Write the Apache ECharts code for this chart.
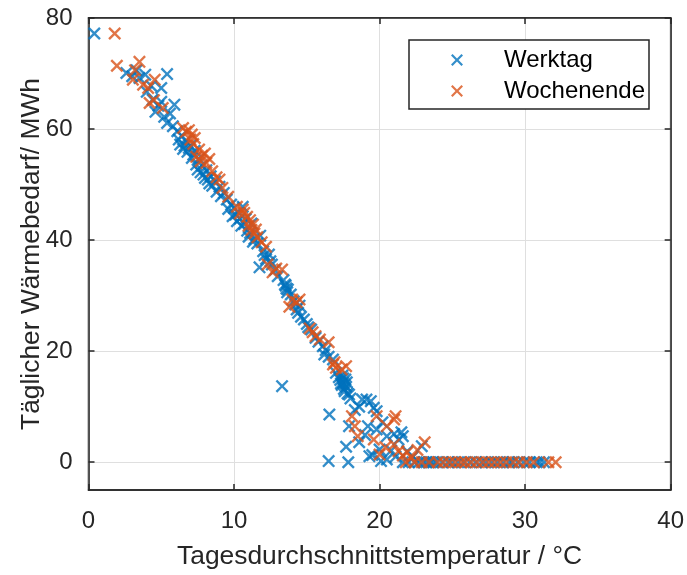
<!DOCTYPE html>
<html>
<head>
<meta charset="utf-8">
<script src="https://cdn.jsdelivr.net/npm/echarts@6/dist/echarts.min.js"></script>
<style>
  html, body { margin: 0; padding: 0; background: #fff; }
  #chart { width: 687px; height: 575px; }
</style>
</head>
<body>
<div id="chart"></div>
<script>
// Werktag: [Temperatur, Wärmebedarf]
const werktag = [
  [0.4, 77.2],
  [2.6, 70.1], [3.0, 69.5], [3.3, 70.6], [3.5, 69.2], [3.9, 69.8], [4.0, 66.7], [4.3, 67.8], [4.4, 65.3],
  [4.6, 63.1], [4.8, 64.2], [5.0, 67.4], [5.0, 64.9], [5.2, 62.2], [5.4, 69.9], [5.4, 61.1], [5.6, 62.8],
  [5.9, 64.4], [5.8, 60.5], [6.1, 59.6], [6.3, 57.2], [6.4, 58.8], [6.5, 56.4], [6.7, 57.8], [6.8, 55.9],
  [6.2, 58.1], [6.6, 57.0], [6.9, 56.6], [7.2, 55.4], [7.4, 53.6], [7.7, 52.2], [8.0, 51.2], [8.3, 50.2],
  [7.0, 57.0], [7.1, 54.8], [7.3, 56.1], [7.5, 52.7], [7.6, 54.6], [7.8, 53.4], [7.9, 51.8], [8.1, 52.6],
  [8.2, 50.9], [8.4, 51.5], [8.5, 49.8], [8.7, 50.6], [8.8, 48.7], [9.0, 49.6], [9.1, 47.9], [9.3, 48.5],
  [9.5, 47.3], [9.6, 45.6], [9.8, 46.4], [9.9, 44.3], [10.0, 45.8], [10.2, 43.4], [10.3, 44.9], [10.5, 42.6],
  [10.6, 46.0], [10.8, 43.8], [10.9, 41.7], [11.1, 41.3], [11.2, 43.0], [11.4, 40.2], [11.6, 39.4], [11.75, 35.1],
  [10.1, 44.6], [10.4, 43.9], [10.7, 42.9], [11.0, 40.6], [11.3, 39.7], [12.1, 37.3], [12.5, 36.2],
  [11.8, 40.8], [12.0, 38.0], [12.2, 36.6], [12.4, 37.4], [12.6, 35.6], [12.8, 34.6], [13.0, 33.5], [13.3, 13.7],
  [13.4, 32.8], [13.5, 32.0], [13.6, 31.3], [13.7, 31.1], [13.9, 30.2], [14.1, 29.0], [14.3, 27.5], [14.5, 28.2],
  [13.55, 31.8], [13.65, 30.6], [14.2, 28.4], [14.4, 26.9], [15.1, 24.3], [16.3, 20.2],
  [14.6, 26.2], [14.8, 25.7], [15.0, 24.9], [15.3, 23.9], [15.6, 22.4], [15.8, 21.7], [16.1, 20.9], [16.2, 19.4],
  [16.5, 19.0], [16.8, 18.5], [17.0, 16.1], [17.2, 15.3], [17.3, 14.8], [17.4, 13.9], [17.45, 15.6], [17.5, 14.3],
  [17.55, 13.2], [17.6, 12.8], [17.65, 14.9], [17.7, 13.6], [17.8, 12.4], [17.9, 12.2], [18.0, 11.5],
  [17.35, 14.2], [17.5, 15.1], [17.6, 13.9], [17.75, 14.4],
  [16.55, 8.6], [16.5, 0.2], [17.85, 0.0], [17.7, 2.8], [17.9, 6.5], [18.3, 9.4], [18.6, 10.0], [18.8, 11.3],
  [19.1, 11.3], [19.4, 11.0], [19.6, 9.8], [19.8, 9.2], [19.2, 6.5], [19.8, 5.9], [20.2, 7.2], [20.5, 4.7],
  [18.6, 3.6], [19.0, 4.9], [19.3, 1.1], [19.5, 1.3], [20.0, 2.3], [20.1, 0.2], [20.5, 0.5], [20.8, 2.1],
  [21.0, 5.1], [21.3, 4.1], [21.6, 4.7], [21.5, 5.4], [21.1, 1.0], [21.9, 2.0], [22.3, 1.0], [22.9, 2.9],
  [21.6, 0], [22.0, 0], [22.4, 0], [22.7, 0], [23.0, 0], [23.2, 0], [23.4, 0], [23.5, 0], [23.7, 0], [23.9, 0],
  [24.3, 0], [24.7, 0], [25.0, 0], [25.4, 0], [25.8, 0], [26.2, 0], [26.6, 0], [27.0, 0], [27.3, 0], [27.7, 0],
  [28.1, 0], [28.5, 0], [28.9, 0], [29.1, 0], [29.5, 0], [29.9, 0], [30.3, 0], [30.8, 0], [31.0, 0], [31.3, 0]
];

// Wochenende
const wochenende = [
  [1.8, 77.2], [1.95, 71.4], [3.5, 72.1], [3.2, 70.6], [3.05, 68.9], [3.75, 68.0], [4.1, 67.4], [4.2, 64.7],
  [4.55, 68.9], [5.1, 63.8], [4.5, 65.2], [6.5, 60.2], [6.7, 59.5], [7.0, 58.1], [7.2, 57.3], [7.1, 59.0],
  [7.4, 55.0], [7.6, 56.3], [7.8, 55.2], [8.1, 53.9], [8.3, 54.6], [8.5, 52.4], [8.8, 51.3], [9.0, 50.9],
  [6.9, 59.8], [7.3, 58.4], [7.7, 54.2], [8.0, 55.6],
  [9.2, 49.4], [9.6, 47.8], [10.2, 46.0], [10.4, 44.8], [10.7, 44.9], [10.9, 44.2], [11.0, 42.6], [11.2, 41.8],
  [11.1, 43.6], [11.4, 41.2], [10.6, 45.5],
  [11.3, 42.8], [11.5, 41.9], [11.6, 40.5], [11.9, 39.6], [12.2, 38.8], [12.3, 35.6], [12.65, 34.2], [12.9, 34.9],
  [13.3, 34.7], [13.8, 28.0], [14.0, 29.3], [14.3, 28.8], [14.5, 29.3], [15.2, 24.1], [15.4, 23.4], [15.6, 22.7],
  [15.9, 22.1], [16.5, 21.6], [16.8, 17.6], [16.9, 18.0], [17.0, 17.0], [17.4, 16.7], [17.7, 17.3],
  [18.1, 8.3], [18.3, 6.5], [18.5, 4.7], [19.6, 4.1], [19.8, 8.3], [20.0, 1.4], [20.4, 2.7], [20.5, 6.5],
  [21.0, 7.7], [21.0, 3.2], [21.1, 8.3], [21.3, 2.0], [21.6, 1.2], [21.9, 1.8], [22.2, 0.8], [23.1, 3.6], [22.6, 2.2],
  [21.8, 0], [22.4, 0], [22.9, 0], [23.4, 0], [24.0, 0], [24.4, 0], [24.8, 0], [25.2, 0], [25.6, 0], [25.9, 0],
  [26.3, 0], [26.7, 0], [27.1, 0], [27.5, 0], [27.9, 0], [28.3, 0], [28.7, 0], [29.2, 0], [29.6, 0], [30.1, 0],
  [30.6, 0], [31.6, 0], [32.1, 0]
];

const xTicks = [0, 10, 20, 30, 40];
const yTicks = [0, 20, 40, 60, 80];

// x-Marker als gefuelltes Polygon
const cross = 'path://M0,13L13,0L50,37L87,0L100,13L63,50L100,87L87,100L50,63L13,100L0,87L37,50Z';
const axisColor = '#262626';
const font = 'Liberation Sans, Arial, Helvetica, sans-serif';

const chart = echarts.init(document.getElementById('chart'));

const tick = { show: true, inside: true, length: 6, lineStyle: { color: axisColor, width: 1.5 } };
const line = { show: true, onZero: false, lineStyle: { color: axisColor, width: 1.5 } };

chart.setOption({
  animation: false,
  backgroundColor: '#fff',
  textStyle: { fontFamily: font },
  grid: { left: 88.5, right: 15, top: 18, bottom: 84, show: true, borderColor: axisColor, borderWidth: 1.5 },
  legend: {
    orient: 'vertical',
    left: 409,
    top: 40,
    padding: [6, 4, 4, 42],
    itemGap: 3,
    itemWidth: 12,
    itemHeight: 12,
    borderColor: axisColor,
    borderWidth: 1.5,
    backgroundColor: '#fff',
    textStyle: { fontSize: 24, color: '#000', fontFamily: font, lineHeight: 28, padding: [0, 0, 0, 36] },
    data: [
      { name: 'Werktag', icon: cross },
      { name: 'Wochenende', icon: cross }
    ]
  },
  xAxis: [{
    type: 'value', min: 0, max: 40, interval: 10,
    name: 'Tagesdurchschnittstemperatur / °C',
    nameLocation: 'middle', nameGap: 54,
    nameTextStyle: { fontSize: 26.4, color: axisColor, fontFamily: font },
    axisLine: line, axisTick: tick,
    axisLabel: { fontSize: 24, color: axisColor, margin: 19, fontFamily: font,
      formatter: v => xTicks.includes(v) ? String(v) : '' },
    splitLine: { show: true, lineStyle: { color: '#dfdfdf', width: 1 } }
  }, {
    type: 'value', min: 0, max: 40, interval: 10, position: 'top',
    axisLine: line, axisTick: tick, axisLabel: { show: false }, splitLine: { show: false }
  }],
  yAxis: [{
    type: 'value', min: -5, max: 80,
    name: 'Täglicher Wärmebedarf/ MWh',
    nameLocation: 'middle', nameGap: 44, nameMoveOverlap: false,
    nameTextStyle: { fontSize: 26.4, color: axisColor, fontFamily: font },
    axisLine: line,
    axisTick: Object.assign({ customValues: yTicks }, tick),
    axisLabel: { fontSize: 24, color: axisColor, margin: 16, fontFamily: font, customValues: yTicks },
    splitLine: { show: true, lineStyle: { color: '#dfdfdf', width: 1 } }
  }, {
    type: 'value', min: -5, max: 80, position: 'right',
    axisLine: line,
    axisTick: Object.assign({ customValues: yTicks }, tick),
    axisLabel: { show: false, customValues: yTicks },
    splitLine: { show: false }
  }],
  series: [{
    name: 'Werktag',
    type: 'scatter',
    symbol: cross,
    symbolSize: 13,
    itemStyle: { color: '#0072BD' },
    data: werktag
  }, {
    name: 'Wochenende',
    type: 'scatter',
    symbol: cross,
    symbolSize: 13,
    itemStyle: { color: '#D95319' },
    data: wochenende
  }]
});
</script>
</body>
</html>
